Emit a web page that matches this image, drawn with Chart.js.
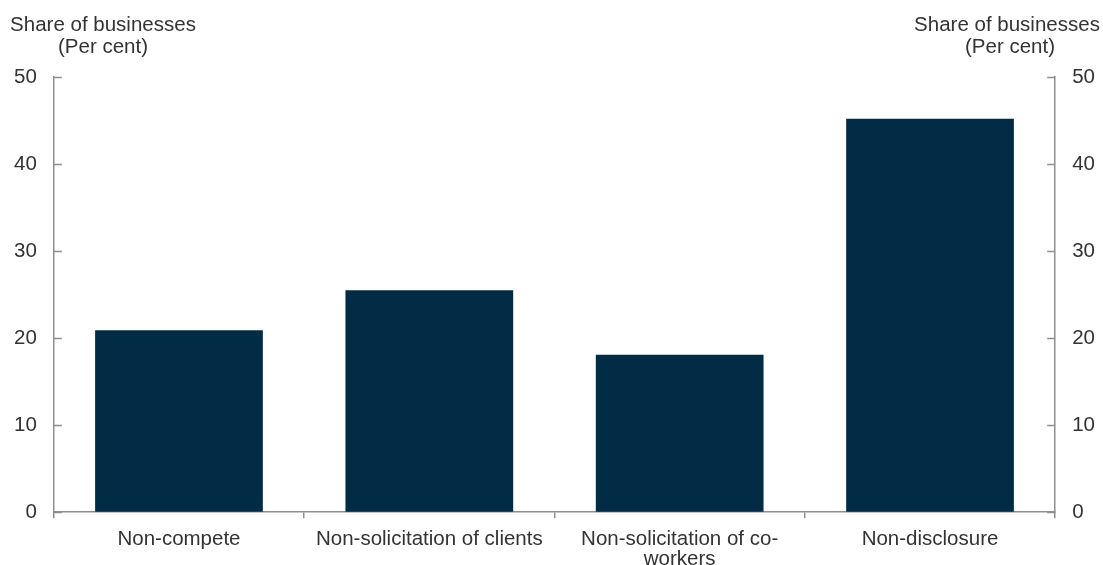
<!DOCTYPE html>
<html>
<head>
<meta charset="utf-8">
<script src="https://cdn.jsdelivr.net/npm/chart.js@4"></script>
<style>
  body { margin: 0; background: #fff; }
  #chart { display: block; }
</style>
</head>
<body>
<canvas id="chart" width="1103" height="565"></canvas>
<script>
// 数据
const categories = [
    'Non-compete',
    'Non-solicitation of clients',
    ['Non-solicitation of co-', 'workers'],
    'Non-disclosure'
];
const shareValues = [20.9, 25.5, 18.1, 45.2];
const yTicks = [0, 10, 20, 30, 40, 50];
const axisTitle = ['Share of businesses', '(Per cent)'];

const textColor = '#333333';
const axisColor = '#8f8f8f';
const font = { family: 'Liberation Sans, Arial, sans-serif', size: 20.5, lineHeight: 1.03 };
const xFont = { family: 'Liberation Sans, Arial, sans-serif', size: 20.5, lineHeight: 0.97 };

// 向内的刻度线 + 轴标题
const innerTicks = {
    id: 'innerTicks',
    afterDraw(chart) {
        const ctx = chart.ctx;
        const area = chart.chartArea;
        ctx.save();
        ctx.strokeStyle = axisColor;
        ctx.lineWidth = 1.5;
        ['y', 'y2'].forEach(id => {
            const scale = chart.scales[id];
            const x0 = id === 'y' ? area.left : area.right;
            const dir = id === 'y' ? 1 : -1;
            scale.ticks.forEach(t => {
                const py = Math.round(scale.getPixelForValue(t.value)) + 0.5;
                ctx.beginPath();
                ctx.moveTo(x0, py);
                ctx.lineTo(x0 + dir * 8, py);
                ctx.stroke();
            });
        });
        // 轴标题
        ctx.fillStyle = textColor;
        ctx.font = font.size + 'px ' + font.family;
        ctx.textAlign = 'center';
        ctx.textBaseline = 'alphabetic';
        ctx.fillText(axisTitle[0], 103, 31);
        ctx.fillText(axisTitle[1], 103, 53);
        ctx.fillText(axisTitle[0], 1007, 31);
        ctx.fillText(axisTitle[1], 1010, 53);
        ctx.restore();
    }
};

const yScale = (position) => ({
    type: 'linear',
    position: position,
    min: 0,
    max: 50,
    afterBuildTicks: axis => { axis.ticks = yTicks.map(v => ({ value: v })); },
    border: { display: true, color: axisColor, width: 1.5 },
    grid: { display: true, drawOnChartArea: false, drawTicks: false },
    ticks: { color: textColor, font: font, padding: 17 }
});

new Chart(document.getElementById('chart').getContext('2d'), {
    type: 'bar',
    data: {
        labels: categories,
        datasets: [{
            label: 'Share of businesses',
            data: shareValues,
            backgroundColor: '#022b46',
            borderWidth: 0,
            barPercentage: 0.67,
            categoryPercentage: 1.0
        }]
    },
    options: {
        responsive: false,
        animation: false,
        layout: { padding: { top: 77, left: -3, right: -9, bottom: -15 } },
        plugins: {
            legend: { display: false },
            tooltip: { enabled: false }
        },
        scales: {
            x: {
                grid: { offset: true, drawOnChartArea: false, tickLength: 6, color: axisColor, lineWidth: 1.5 },
                border: { color: axisColor, width: 1.5 },
                ticks: { color: textColor, font: xFont, padding: 11, maxRotation: 0, autoSkip: false }
            },
            y: yScale('left'),
            y2: yScale('right')
        }
    },
    plugins: [innerTicks]
});
</script>
</body>
</html>
